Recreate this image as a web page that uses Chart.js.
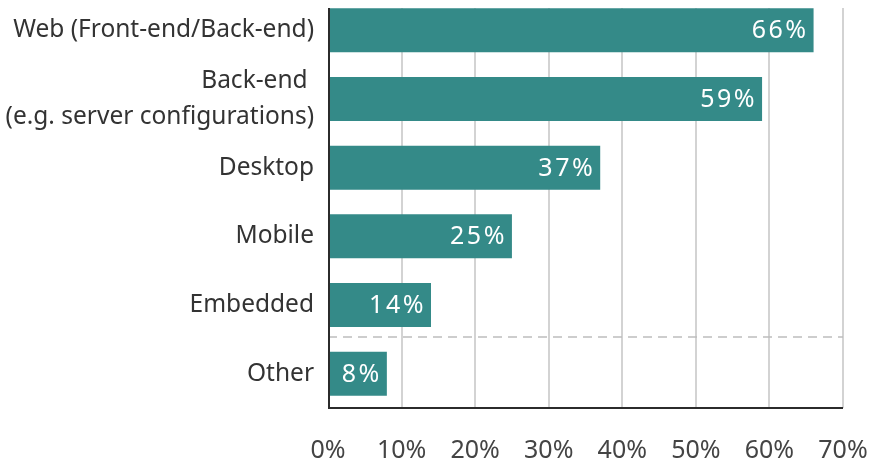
<!DOCTYPE html>
<html>
<head>
<meta charset="utf-8">
<script src="https://cdn.jsdelivr.net/npm/chart.js@4"></script>
<style>
  html, body { margin: 0; padding: 0; background: #fff; overflow: hidden; }
  #wrap { position: absolute; left: 0; top: -12px; width: 870px; height: 479px; }
</style>
</head>
<body>
<div id="wrap"><canvas id="c"></canvas></div>
<script>
const categories = [
  "Web (Front-end/Back-end)",
  ["Back-end ", "(e.g. server configurations)"],
  "Desktop",
  "Mobile",
  "Embedded",
  "Other"
];
const shares = [66, 59, 37, 25, 14, 8];
const xTicks = [0, 10, 20, 30, 40, 50, 60, 70];

const SHIFT = 12;
const FONT = "'Noto Sans', 'Open Sans', sans-serif";

const customDraw = {
  id: 'customDraw',
  beforeDatasetsDraw(chart) {
    const { ctx, chartArea, scales } = chart;
    const x = scales.x, y = scales.y;
    const top = 8 + SHIFT;
    ctx.save();
    ctx.strokeStyle = '#c4c4c4';
    ctx.lineWidth = 1.5;
    xTicks.forEach(v => {
      if (v === 0) return;
      const px = Math.round(x.getPixelForValue(v));
      ctx.beginPath();
      ctx.moveTo(px, top);
      ctx.lineTo(px, chartArea.bottom);
      ctx.stroke();
    });
    const yA = y.getPixelForValue(4), yB = y.getPixelForValue(5);
    const yd = Math.round((yA + yB) / 2) - 2;
    ctx.setLineDash([9, 6]);
    ctx.strokeStyle = '#bdbdbd';
    ctx.lineWidth = 1.5;
    ctx.beginPath();
    ctx.moveTo(chartArea.left, yd);
    ctx.lineTo(chartArea.right, yd);
    ctx.stroke();
    ctx.restore();
  },
  afterDatasetsDraw(chart) {
    const { ctx, chartArea } = chart;
    const top = 8 + SHIFT;
    ctx.save();
    ctx.strokeStyle = '#2b2b2b';
    ctx.lineWidth = 2;
    ctx.beginPath();
    ctx.moveTo(chartArea.left + 1, top);
    ctx.lineTo(chartArea.left + 1, chartArea.bottom);
    ctx.lineTo(chartArea.right, chartArea.bottom);
    ctx.stroke();
    const meta = chart.getDatasetMeta(0);
    ctx.fillStyle = '#ffffff';
    ctx.font = "25px " + FONT;
    ctx.textAlign = 'right';
    ctx.textBaseline = 'middle';
    try { ctx.letterSpacing = '2.5px'; } catch (e) {}
    meta.data.forEach((bar, i) => {
      ctx.fillText(shares[i] + '%', bar.x - 5, bar.y + 1);
    });
    ctx.restore();
  }
};

new Chart(document.getElementById('c'), {
  type: 'bar',
  data: {
    labels: categories,
    datasets: [{
      data: shares,
      backgroundColor: '#348a88',
      borderWidth: 0,
      barPercentage: 0.64,
      categoryPercentage: 1.0
    }]
  },
  options: {
    indexAxis: 'y',
    responsive: true,
    maintainAspectRatio: false,
    animation: false,
    layout: { padding: { top: 8, right: 27, bottom: 0, left: 0 } },
    plugins: { legend: { display: false }, tooltip: { enabled: false } },
    scales: {
      x: {
        min: 0, max: 70,
        afterBuildTicks(scale) { scale.ticks = xTicks.map(v => ({ value: v })); },
        afterFit(scale) { scale.height = 59; scale.paddingLeft = 0; scale.paddingRight = 0; },
        grid: { display: false, drawTicks: false },
        border: { display: false },
        ticks: {
          callback: v => v + '%',
          color: '#444444',
          font: { family: FONT, size: 25 },
          padding: 28,
          maxRotation: 0,
          autoSkip: false
        }
      },
      y: {
        grid: { display: false, drawTicks: false },
        border: { display: false },
        afterFit(scale) { scale.width = 328; scale.paddingTop = 0; scale.paddingBottom = 0; },
        ticks: {
          color: '#333333',
          font: { family: FONT, size: 24.5, lineHeight: 1.45 },
          padding: 14,
          autoSkip: false
        }
      }
    }
  },
  plugins: [customDraw]
});
</script>
</body>
</html>
